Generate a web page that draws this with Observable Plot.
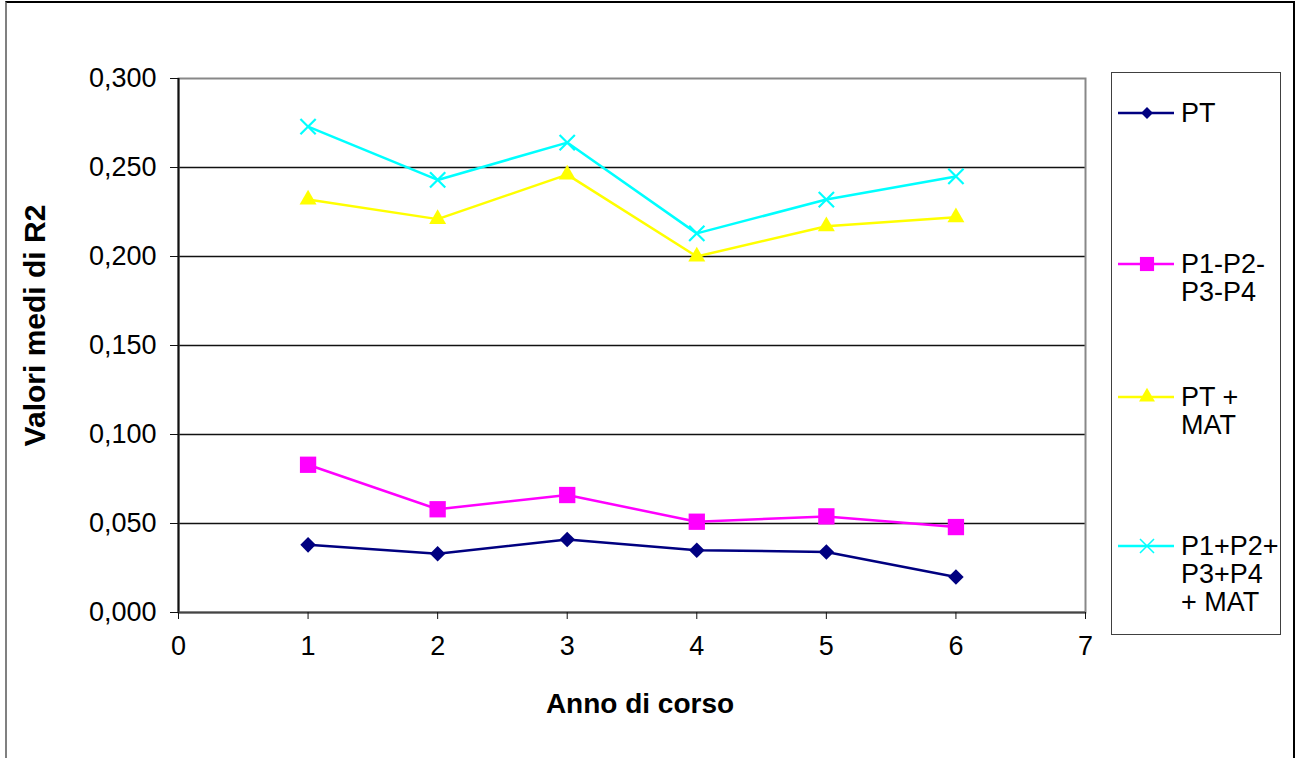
<!DOCTYPE html>
<html><head><meta charset="utf-8">
<script src="https://cdn.jsdelivr.net/npm/d3@7"></script>
<script src="https://cdn.jsdelivr.net/npm/@observablehq/plot@0.6"></script>
<style>
body{margin:0;background:#fff;font-family:"Liberation Sans",Arial,sans-serif;}
#wrap{position:relative;width:1298px;height:758px;overflow:hidden;background:#fff;}
#chart{position:absolute;left:0;top:0;}
#border{position:absolute;left:5px;top:1px;width:1286px;height:800px;border-top:2px solid #000;border-right:2px solid #000;border-left:2px solid #808080;pointer-events:none;}
#legend{position:absolute;left:1111px;top:72px;width:168px;height:561px;border:1.5px solid #404040;background:#fff;}
.entry{position:absolute;left:0;}
.entry svg{position:absolute;left:6px;}
.entry .lbl{position:absolute;left:69px;font-size:27px;line-height:28px;color:#000;white-space:nowrap;}
</style></head><body><div id="wrap"><div id="chart"></div><div id="legend"></div><div id="border"></div></div>
<script>
const years = [1, 2, 3, 4, 5, 6];
const seriesNames = ["PT", "P1-P2-P3-P4", "PT + MAT", "P1+P2+P3+P4 + MAT"];
const legendLabels = [["PT"], ["P1-P2-", "P3-P4"], ["PT +", "MAT"], ["P1+P2+", "P3+P4", "+ MAT"]];
const PT = [0.038, 0.033, 0.041, 0.035, 0.034, 0.020];
const P1P2P3P4 = [0.083, 0.058, 0.066, 0.051, 0.054, 0.048];
const PTMAT = [0.232, 0.221, 0.246, 0.200, 0.217, 0.222];
const ALLMAT = [0.273, 0.243, 0.264, 0.213, 0.232, 0.245];
const colors = ["#000080", "#FF00FF", "#FFFF00", "#00FFFF"];
const symbols = ["diamond2", "square", "triangle", "times"];
const yTicks = [0, 0.05, 0.1, 0.15, 0.2, 0.25, 0.3];
const xTicks = [0, 1, 2, 3, 4, 5, 6, 7];
const xTitle = "Anno di corso";
const yTitle = "Valori medi di R2";

const seriesValues = [PT, P1P2P3P4, PTMAT, ALLMAT];
const data = [];
seriesNames.forEach((s, i) => years.forEach((y, j) => data.push({series: s, year: y, value: seriesValues[i][j]})));

const fmt = d => d.toFixed(3).replace(".", ",");
const dotR = [7, 9.2, 6.3, 7];

const marks = [
  Plot.ruleY(yTicks.filter(d => d > 0 && d < 0.3), {stroke: "#111", strokeWidth: 1.5}),
  Plot.frame({stroke: "#888", strokeWidth: 2}),
  Plot.ruleX([0], {stroke: "#111", strokeWidth: 2}),
  Plot.ruleY([0], {stroke: "#444", strokeWidth: 2}),
  Plot.axisY(yTicks, {tickSize: 8, tickPadding: 14, tickFormat: fmt, label: null, stroke: "#111", fill: "#000"}),
  Plot.axisX(xTicks, {tickSize: 7, tickPadding: 16, tickFormat: d => String(d), label: null, stroke: "#111", fill: "#000"}),
  Plot.line(data, {x: "year", y: "value", z: "series", stroke: "series", strokeWidth: 2.5}),
];
seriesNames.forEach((s, i) => {
  const isTimes = symbols[i] === "times";
  marks.push(Plot.dot(data.filter(d => d.series === s), {
    x: "year", y: "value", symbol: () => symbols[i], r: dotR[i],
    fill: isTimes ? "none" : colors[i], stroke: isTimes ? colors[i] : "none", strokeWidth: isTimes ? 2.2 : 0
  }));
});
marks.push(Plot.text([xTitle], {frameAnchor: "bottom", textAnchor: "middle", lineAnchor: "middle", dx: 8, dy: 92, fontWeight: "bold", fontSize: 28, fill: "#000", text: d => d}));
marks.push(Plot.text([yTitle], {frameAnchor: "left", textAnchor: "middle", lineAnchor: "middle", dx: -143, dy: -20, rotate: -90, fontWeight: "bold", fontSize: 30, fill: "#000", text: d => d}));

const chart = Plot.plot({
  width: 1298, height: 758,
  marginLeft: 178, marginRight: 213, marginTop: 78, marginBottom: 146,
  style: {fontSize: "27px", fontFamily: "'Liberation Sans', Arial, sans-serif", color: "#000", background: "transparent"},
  x: {domain: [0, 7], axis: null},
  y: {domain: [0, 0.3], axis: null},
  color: {domain: seriesNames, range: colors},
  symbol: {domain: symbols, range: symbols},
  marks
});
document.getElementById("chart").appendChild(chart);

// Legend
const legend = document.getElementById("legend");
const entryY = [40, 191, 324, 473]; // line positions inside the legend box
const legendSym = [d3.symbolDiamond2, d3.symbolSquare, d3.symbolTriangle, d3.symbolTimes];
const legendSize = [90, 200, 110, 130];
seriesNames.forEach((s, i) => {
  const e = document.createElement("div");
  e.className = "entry";
  e.style.top = (entryY[i]) + "px";
  const ns = "http://www.w3.org/2000/svg";
  const svg = document.createElementNS(ns, "svg");
  svg.setAttribute("width", 56); svg.setAttribute("height", 20);
  svg.style.top = "-10px";
  const ln = document.createElementNS(ns, "line");
  ln.setAttribute("x1", 0); ln.setAttribute("x2", 56); ln.setAttribute("y1", 10); ln.setAttribute("y2", 10);
  ln.setAttribute("stroke", colors[i]); ln.setAttribute("stroke-width", 2.5);
  svg.appendChild(ln);
  const p = document.createElementNS(ns, "path");
  p.setAttribute("d", d3.symbol(legendSym[i], legendSize[i])());
  p.setAttribute("transform", "translate(29,10)");
  if (i === 3) { p.setAttribute("fill", "none"); p.setAttribute("stroke", colors[i]); p.setAttribute("stroke-width", 1.5); }
  else p.setAttribute("fill", colors[i]);
  svg.appendChild(p);
  e.appendChild(svg);
  const lbl = document.createElement("div");
  lbl.className = "lbl";
  lbl.style.top = "-14px";
  lbl.innerHTML = legendLabels[i].join("<br>");
  e.appendChild(lbl);
  legend.appendChild(e);
});
</script></body></html>
